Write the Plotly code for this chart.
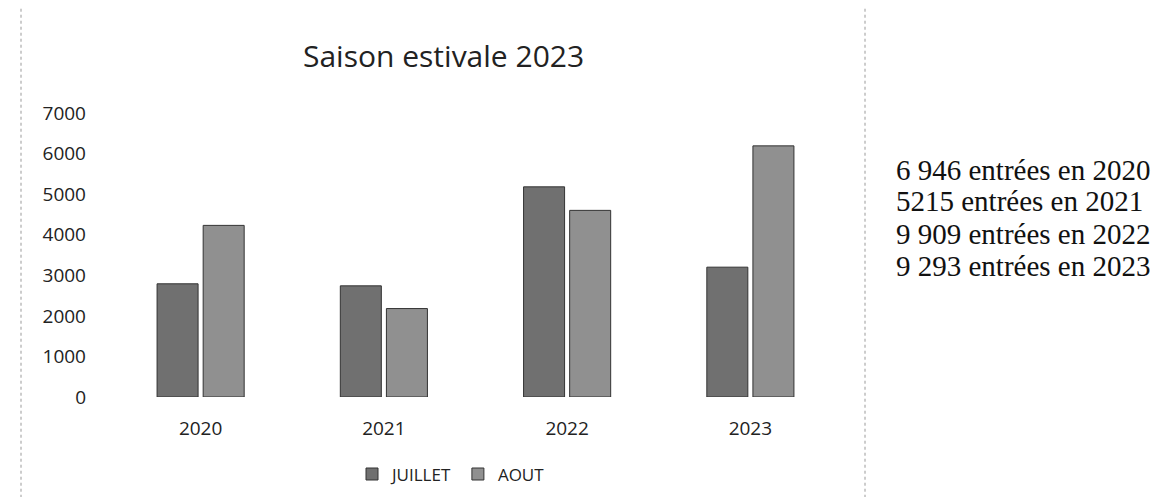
import plotly.graph_objects as go

# ---- data ----
categories = ["2020", "2021", "2022", "2023"]
juillet = [2790, 2740, 5180, 3200]
aout = [4230, 2180, 4600, 6190]
series_names = ["JUILLET", "AOUT"]
title_text = "Saison estivale 2023"
side_notes = [
    "6 946 entrées en 2020",
    "5215 entrées en 2021",
    "9 909 entrées en 2022",
    "9 293 entrées en 2023",
]

# ---- layout geometry (pixels) ----
FW, FH = 1159, 497
L, R, T, B = 101, 834, 105, 391
PW, PH = R - L, B - T


def px_x(x):
    return (x - L) / PW


def px_y(y):
    return (B - y) / PH


SANS = "Open Sans"
SERIF = "Liberation Serif"

fig = go.Figure()
fig.add_trace(go.Bar(
    x=categories, y=juillet, name=series_names[0],
    marker=dict(color="#707070", line=dict(color="#333333", width=1)),
))
fig.add_trace(go.Bar(
    x=categories, y=aout, name=series_names[1],
    marker=dict(color="#909090", line=dict(color="#333333", width=1)),
))

fig.update_layout(
    width=FW, height=FH,
    margin=dict(l=L, r=FW - R, t=T, b=FH - B, pad=0),
    paper_bgcolor="white", plot_bgcolor="white",
    barmode="group", bargap=0.497, bargroupgap=0.11,
    font=dict(family=SANS, color="#222222"),
    showlegend=True,
    legend=dict(
        orientation="h", x=px_x(443), y=px_y(469),
        xanchor="center", yanchor="middle",
        font=dict(family=SANS, size=17, color="#222222"),
        itemwidth=30, tracegroupgap=0,
    ),
)

fig.update_xaxes(
    showgrid=False, zeroline=False, showline=False, ticks="",
    tickfont=dict(family=SANS, size=19, color="#222222"),
    ticklabelstandoff=18,
)
fig.update_yaxes(
    range=[0, 7000], dtick=1000, tick0=0,
    showgrid=False, zeroline=False, showline=False, ticks="",
    tickfont=dict(family=SANS, size=19, color="#222222"),
    ticklabelstandoff=22,
)

# title
fig.add_annotation(
    text=title_text, xref="paper", yref="paper",
    x=px_x(435), y=px_y(47), xanchor="center", yanchor="middle",
    showarrow=False, font=dict(family=SANS, size=30, color="#222222"),
)

# side notes
note_y = [162, 194, 227, 259]
for txt, yy in zip(side_notes, note_y):
    fig.add_annotation(
        text=txt, xref="paper", yref="paper",
        x=px_x(886), y=px_y(yy), xanchor="left", yanchor="middle",
        showarrow=False, font=dict(family=SERIF, size=29, color="#111111"),
    )

# chart-area borders (dotted, scanned look)
for xx in (13, 857):
    fig.add_shape(
        type="line", xref="paper", yref="paper",
        x0=px_x(xx), x1=px_x(xx), y0=px_y(0), y1=px_y(FH),
        line=dict(color="#9a9a9a", width=1, dash="dot"),
    )

fig.write_html("out.html")
